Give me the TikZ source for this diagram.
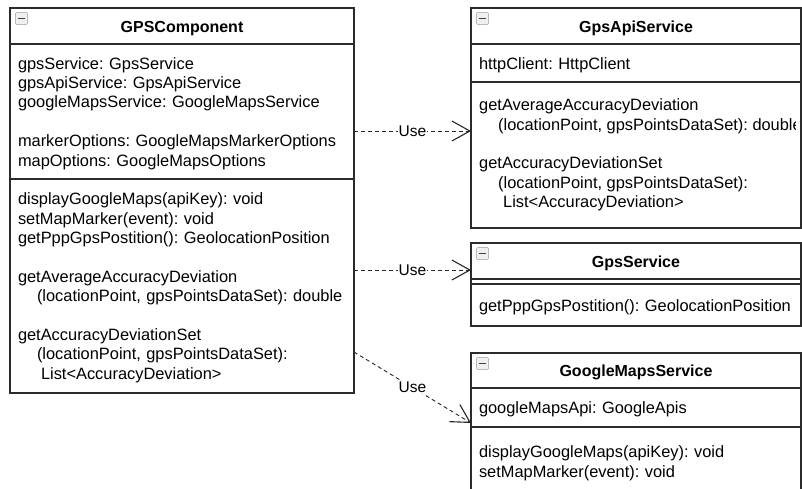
\documentclass[tikz,border=0pt]{standalone}
\usepackage{fontspec}
\setmainfont{Liberation Sans}
\usetikzlibrary{positioning,arrows.meta}
\frenchspacing
% linea de altura fija (como en el editor original)
\newcommand{\linestrut}{\rule[-3.2pt]{0pt}{19.3pt}}

\begin{document}
\begin{tikzpicture}[x=1pt, y=1pt,
    classtitle/.style={draw=boxline, line width=1.2pt, outer sep=0pt, inner sep=0pt,
        anchor=north west, minimum width=#1, minimum height=36pt,
        font=\fontsize{16}{19.3}\selectfont\bfseries,
        execute at begin node=\linestrut},
    classbox/.style 2 args={draw=boxline, line width=1.2pt, outer sep=0pt, inner sep=0pt,
        minimum width=#1, minimum height=#2},
    classpart/.style 2 args={draw=boxline, line width=1.2pt, outer sep=0pt,
        inner xsep=8pt, inner ysep=0pt, text width=#1, minimum height=#2,
        align=left, font=\fontsize{16.4}{19.3}\selectfont,
        execute at begin node=\linestrut, execute at end node=\linestrut},
    classtext/.style={inner sep=0pt, align=left, font=\fontsize{16.4}{19.3}\selectfont,
        execute at begin node=\linestrut, execute at end node=\linestrut},
    collapse/.style={draw=gray!55, fill=gray!12, rounded corners=1pt, minimum size=12pt,
        inner sep=0pt, line width=0.6pt,
        path picture={\draw[black!75, line width=1.6pt]
            ([xshift=2.5pt]path picture bounding box.west) --
            ([xshift=-2.5pt]path picture bounding box.east);}},
    usearrow/.style={draw=black!85, line width=0.9pt, dash pattern=on 4pt off 3pt,
        -{Straight Barb[length=18pt, width=20pt, line width=1.1pt]}},
    usetag/.style={fill=white, inner sep=1pt, font=\fontsize{15.5}{18}\selectfont}]
    % --- Colores ---
    \definecolor{boxline}{HTML}{2B2B2B}

    \useasboundingbox (0,0) rectangle (802,-488);

    % --- GPSComponent ---
    \node[classtitle=344pt] (gpsTitle) at (10,-8) {GPSComponent};
    \node[classpart={328pt}{135pt}, below=0pt of gpsTitle] (gpsAttr) {%
        gpsService: GpsService\\
        gpsApiService: GpsApiService\\
        googleMapsService: GoogleMapsService\\[19.3pt]
        markerOptions: GoogleMapsMarkerOptions\\
        mapOptions: GoogleMapsOptions};
    \node[classpart={328pt}{214pt}, below=0pt of gpsAttr] (gpsMeth) {%
        displayGoogleMaps(apiKey): void\\
        setMapMarker(event): void\\
        getPppGpsPostition(): GeolocationPosition\\[19.3pt]
        getAverageAccuracyDeviation\\
        \hspace*{19pt}(locationPoint, gpsPointsDataSet): double\\[19.3pt]
        getAccuracyDeviationSet\\
        \hspace*{19pt}(locationPoint, gpsPointsDataSet):\\
        \hspace*{23pt}List<AccuracyDeviation>};

    % --- GpsApiService ---
    \node[classtitle=330pt] (apiTitle) at (471,-8) {GpsApiService};
    \node[classpart={314pt}{38pt}, below=0pt of apiTitle] (apiAttr) {httpClient: HttpClient};
    \node[classbox={330pt}{146pt}, below=0pt of apiAttr] (apiMeth) {};
    % texto recortado por el borde derecho
    \begin{scope}
        \clip ([xshift=6pt]apiMeth.north west) rectangle ([xshift=-6pt]apiMeth.south east);
        \node[classtext, anchor=west] (apiMethText) at ([xshift=8pt]apiMeth.west) {%
            getAverageAccuracyDeviation\\
            \hspace*{19pt}(locationPoint, gpsPointsDataSet): double\\[19.3pt]
            getAccuracyDeviationSet\\
            \hspace*{19pt}(locationPoint, gpsPointsDataSet):\\
            \hspace*{24pt}List<AccuracyDeviation>};
    \end{scope}

    % --- GpsService ---
    \node[classtitle=330pt] (svcTitle) at (471,-243) {GpsService};
    \node[classbox={330pt}{5pt}, below=0pt of svcTitle] (svcAttr) {};
    \node[classpart={314pt}{42pt}, below=0pt of svcAttr] (svcMeth) {getPppGpsPostition(): GeolocationPosition};

    % --- GoogleMapsService ---
    \node[classtitle=330pt, minimum height=35pt] (mapsTitle) at (471,-353) {GoogleMapsService};
    \node[classpart={314pt}{39pt}, below=0pt of mapsTitle] (mapsAttr) {googleMapsApi: GoogleApis};
    \node[classpart={314pt}{68pt}, below=0pt of mapsAttr] (mapsMeth) {%
        displayGoogleMaps(apiKey): void\\
        setMapMarker(event): void};

    % --- Iconos de plegado ---
    \foreach \t in {gpsTitle,apiTitle,svcTitle,mapsTitle} {
        \node[collapse] (\t Minus) at ([shift={(11.5,-10.5)}]\t.north west) {};
    }

    % --- Dependencias ---
    \draw[usearrow] ([yshift=-19.5pt]gpsAttr.east) --
        node[usetag] {Use} ([yshift=-19.5pt]gpsAttr.east -| apiMeth.west);
    \draw[usearrow] ([yshift=-9pt]svcTitle.west -| gpsMeth.east) --
        node[usetag] {Use} ([yshift=-9pt]svcTitle.west);
    \draw[usearrow] ([yshift=-66pt]gpsMeth.east) --
        node[usetag] {Use} ([yshift=-15.5pt]mapsAttr.west);
\end{tikzpicture}
\end{document}
